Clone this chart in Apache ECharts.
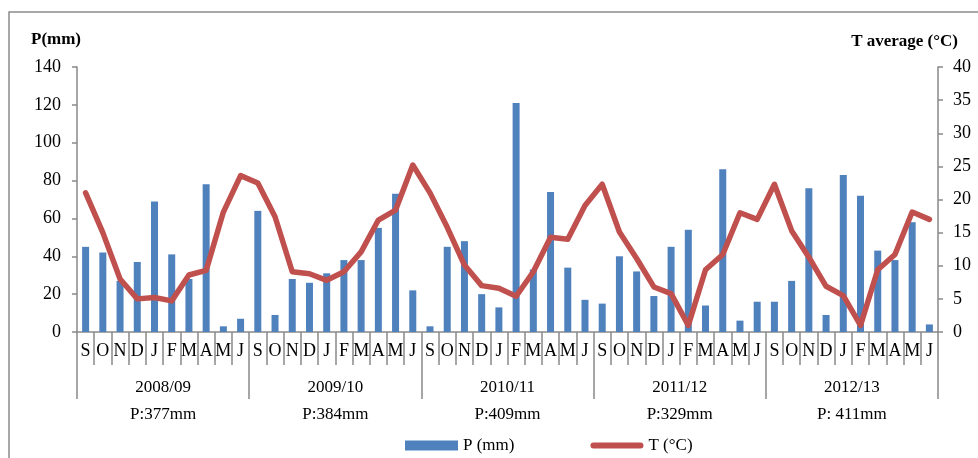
<!DOCTYPE html>
<html>
<head>
<meta charset="utf-8">
<script src="https://cdn.jsdelivr.net/npm/echarts@6/dist/echarts.min.js"></script>
<style>
  html, body { margin: 0; padding: 0; background: #fff; }
  #chart { width: 978px; height: 458px; }
</style>
</head>
<body>
<div id="chart"></div>
<script>
// months of each hydrological year, Sept -> June
const months = ['S', 'O', 'N', 'D', 'J', 'F', 'M', 'A', 'M', 'J']
const years = ['2008/09', '2009/10', '2010/11', '2011/12', '2012/13']
const yearTotals = ['P:377mm', 'P:384mm', 'P:409mm', 'P:329mm', 'P: 411mm']

// monthly precipitation (mm)
const precip = [
  45, 42, 27, 37, 69, 41, 28, 78, 3, 7,
  64, 9, 28, 26, 31, 38, 38, 55, 73, 22,
  3, 45, 48, 20, 13, 121, 33, 74, 34, 17,
  15, 40, 32, 19, 45, 54, 14, 86, 6, 16,
  16, 27, 76, 9, 83, 72, 43, 38, 58, 4
]

// monthly average temperature (°C)
const temp = [
  21, 15, 8, 5, 5.2, 4.7, 8.6, 9.3, 18.1, 23.6,
  22.5, 17.4, 9.1, 8.8, 7.8, 9.1, 12.1, 16.9, 18.4, 25.2,
  21, 15.8, 10.1, 7, 6.6, 5.4, 9.1, 14.3, 14, 19.1,
  22.3, 15.1, 11.1, 6.8, 5.8, 1, 9.4, 11.7, 18, 17,
  22.3, 15.3, 11.3, 6.9, 5.5, 1, 9.4, 11.7, 18.1, 17
]

const pLeftTicks = { min: 0, max: 140, interval: 20 }
const tRightTicks = { min: 0, max: 40, interval: 5 }

const monthCats = years.flatMap(() => months)

const serif = '"Liberation Serif", "Times New Roman", serif'
const axisGray = '#898989'

const myChart = echarts.init(document.getElementById('chart'))
myChart.setOption({
  animation: false,
  textStyle: { fontFamily: serif },
  grid: { left: 77, right: 40, top: 67, bottom: 126, containLabel: false },
  graphic: [
    {
      type: 'rect',
      shape: { x: 9, y: 12, width: 1000, height: 500 },
      style: { fill: 'none', stroke: '#8c8c8c', lineWidth: 1.5 },
      silent: true
    },
    {
      type: 'text', left: 31, top: 31,
      style: { text: 'P(mm)', font: 'bold 17px ' + serif, fill: '#000' }
    },
    {
      type: 'text', right: 20, top: 33,
      style: { text: 'T average (°C)', font: 'bold 17px ' + serif, fill: '#000' }
    }
  ],
  legend: {
    left: 400,
    top: 432,
    itemWidth: 53,
    itemHeight: 10,
    itemGap: 76,
    textStyle: { fontFamily: serif, fontSize: 17, color: '#000' },
    data: [
      { name: 'P (mm)', icon: 'rect' },
      // thick rounded line swatch
      { name: 'T (°C)', icon: 'path://M3,0 L52,0 A3,3 0 0 1 52,6 L3,6 A3,3 0 0 1 3,0 Z' }
    ]
  },
  xAxis: [
    {
      type: 'category',
      data: monthCats,
      boundaryGap: true,
      position: 'bottom',
      axisLine: { show: true, lineStyle: { color: axisGray, width: 1.5 } },
      axisTick: { show: true, interval: 0, length: 33, lineStyle: { color: axisGray, width: 1.5 } },
      axisLabel: { interval: 0, margin: 10, fontSize: 18, color: '#000', fontFamily: serif }
    },
    {
      type: 'category',
      data: years,
      boundaryGap: true,
      position: 'bottom',
      axisLine: { show: false },
      axisTick: { show: true, interval: 0, length: 67, lineStyle: { color: axisGray, width: 1.5 } },
      axisLabel: {
        interval: 0,
        margin: 42,
        color: '#000',
        fontFamily: serif,
        formatter: (v, i) => '{a|' + v + '}\n{b|' + yearTotals[i] + '}',
        rich: {
          a: { fontSize: 17, lineHeight: 27, fontFamily: serif, color: '#000' },
          b: { fontSize: 17, lineHeight: 27, fontFamily: serif, color: '#000' }
        }
      }
    }
  ],
  yAxis: [
    {
      type: 'value',
      min: pLeftTicks.min,
      max: pLeftTicks.max,
      interval: pLeftTicks.interval,
      position: 'left',
      axisLine: { show: true, lineStyle: { color: axisGray, width: 1.5 } },
      axisTick: { show: true, length: 5, lineStyle: { color: axisGray, width: 1.5 } },
      axisLabel: { margin: 16, fontSize: 18, color: '#000', fontFamily: serif },
      splitLine: { show: false }
    },
    {
      type: 'value',
      min: tRightTicks.min,
      max: tRightTicks.max,
      interval: tRightTicks.interval,
      position: 'right',
      axisLine: { show: true, lineStyle: { color: axisGray, width: 1.5 } },
      axisTick: { show: true, length: 5, lineStyle: { color: axisGray, width: 1.5 } },
      axisLabel: { margin: 15, fontSize: 18, color: '#000', fontFamily: serif },
      splitLine: { show: false }
    }
  ],
  series: [
    {
      name: 'P (mm)',
      type: 'bar',
      xAxisIndex: 0,
      yAxisIndex: 0,
      barWidth: 7,
      data: precip,
      itemStyle: { color: '#4F81BD' }
    },
    {
      name: 'T (°C)',
      type: 'line',
      xAxisIndex: 0,
      yAxisIndex: 1,
      symbol: 'none',
      data: temp,
      itemStyle: { color: '#C0504D' },
      lineStyle: { color: '#C0504D', width: 5.5, cap: 'round', join: 'round' }
    }
  ]
})
window.addEventListener('resize', () => {
  myChart.resize()
})
</script>
</body>
</html>
